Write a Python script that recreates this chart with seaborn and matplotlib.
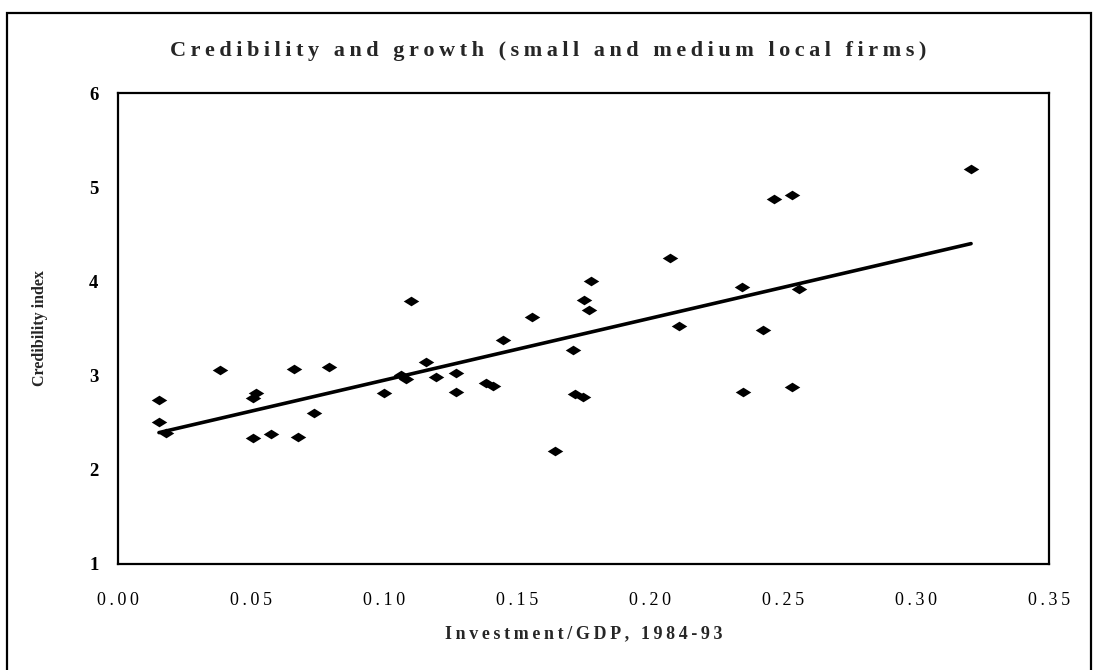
import matplotlib
matplotlib.use("Agg")
import matplotlib.pyplot as plt
import seaborn as sns
import pandas as pd
from matplotlib.patches import Rectangle

# Investment/GDP ratio (1984-93) and credibility index for each country
inv_gdp = [0.0154, 0.0154, 0.0180, 0.0383, 0.0506, 0.0518, 0.0508, 0.0575,
           0.0662, 0.0677, 0.0738, 0.0794, 0.1001, 0.1063, 0.1082, 0.1102,
           0.1158, 0.1195, 0.1271, 0.1271, 0.1384, 0.1409, 0.1449, 0.1557,
           0.1642, 0.1712, 0.1719, 0.1748, 0.1751, 0.1769, 0.1779, 0.2074,
           0.2109, 0.2344, 0.2348, 0.2423, 0.2466, 0.2532, 0.2535, 0.2559,
           0.3207]
credibility = [2.74, 2.51, 2.39, 3.06, 2.76, 2.82, 2.34, 2.38,
               3.07, 2.35, 2.60, 3.09, 2.81, 3.01, 2.96, 3.79,
               3.14, 2.98, 3.03, 2.83, 2.92, 2.89, 3.38, 3.62,
               2.20, 3.27, 2.80, 2.77, 3.80, 3.70, 4.00, 4.25,
               3.53, 3.94, 2.83, 3.48, 4.88, 4.92, 2.88, 3.92,
               5.19]

x_ticks = [0.00, 0.05, 0.10, 0.15, 0.20, 0.25, 0.30, 0.35]
x_tick_labels = ["0.00", "0.05", "0.10", "0.15", "0.20", "0.25", "0.30", "0.35"]
y_ticks = [1, 2, 3, 4, 5, 6]
y_tick_labels = ["1", "2", "3", "4", "5", "6"]

title = "Credibility and growth (small and medium local firms)"
x_label = "Investment/GDP, 1984-93"
y_label = "Credibility index"

df = pd.DataFrame({"inv_gdp": inv_gdp, "credibility": credibility})

sns.set_style("white")
plt.rcParams["font.family"] = ["Liberation Serif", "DejaVu Serif"]


def spaced(text):
    """Letter-spaced text, joined with thin spaces."""
    return "\u2009".join(text)


W, H = 1096, 670
fig = plt.figure(figsize=(W / 100, H / 100), dpi=100)
ax = fig.add_axes([118 / W, 1 - 564 / H, (1049 - 118) / W, (564 - 93) / H])

# flattened diamond marker
diamond = [(-1, 0), (0, 0.62), (1, 0), (0, -0.62), (-1, 0)]

sns.regplot(data=df, x="inv_gdp", y="credibility", ax=ax, ci=None,
            marker=diamond,
            scatter_kws=dict(s=125, color="black", linewidths=0, alpha=1),
            line_kws=dict(color="black", lw=2.6, solid_capstyle="round"))

ax.set_xlim(0, 0.35)
ax.set_ylim(1, 6)
ax.set_xticks(x_ticks)
ax.set_xticklabels([spaced(t) for t in x_tick_labels], fontsize=13)
ax.set_yticks(y_ticks)
ax.set_yticklabels(y_tick_labels, fontsize=13.5, fontweight="bold")
ax.tick_params(axis="both", direction="inout", length=12, width=1.2,
               color="black", labelcolor="black")
ax.tick_params(axis="x", pad=14)
ax.tick_params(axis="y", pad=8)

for side in ["left", "right", "top", "bottom"]:
    ax.spines[side].set_visible(True)
    ax.spines[side].set_color("black")
    ax.spines[side].set_linewidth(1.6)

ax.set_xlabel(spaced(x_label), fontsize=13, fontweight="bold", labelpad=12)
ax.set_ylabel(y_label, fontsize=11.5, fontweight="bold", labelpad=30)

fig.text(0.5, 1 - 51 / H, spaced(title), ha="center", va="center",
         fontsize=16, fontweight="bold")

# outer frame around the chart
fig.patches.append(Rectangle((7 / W, -0.05), (1091 - 7) / W, 1.05 - 13 / H,
                             transform=fig.transFigure, fill=False,
                             edgecolor="black", linewidth=1.6))

fig.savefig("out.png", dpi=100, facecolor="white")
